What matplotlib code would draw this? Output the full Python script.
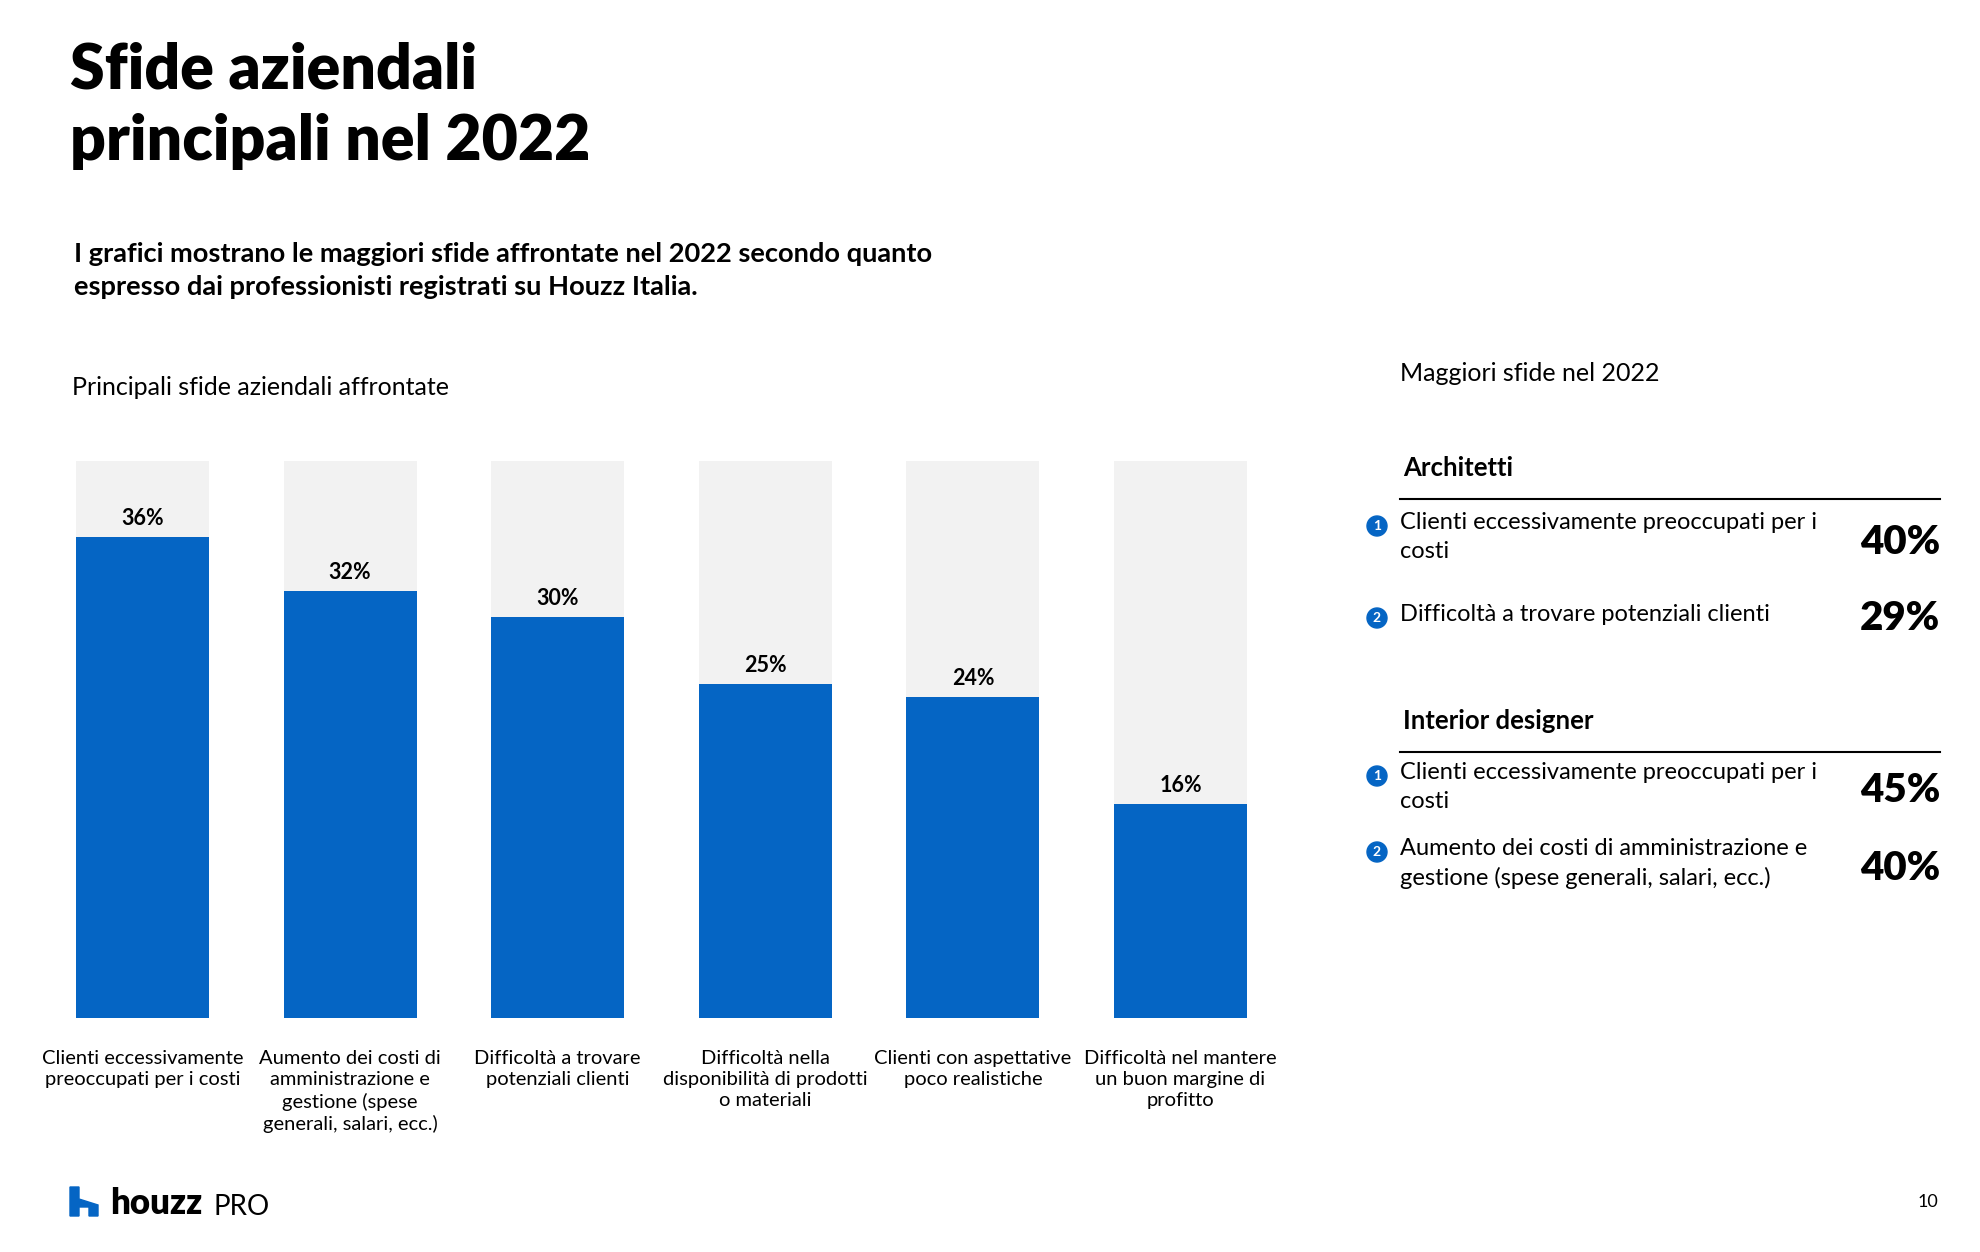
import matplotlib.pyplot as plt
from matplotlib.patches import Polygon, Ellipse

W, H = 1980, 1252
BLUE = "#0565C4"
GREY = "#F2F2F2"

categories = [
    "Clienti eccessivamente\npreoccupati per i costi",
    "Aumento dei costi di\namministrazione e\ngestione (spese\ngenerali, salari, ecc.)",
    "Difficoltà a trovare\npotenziali clienti",
    "Difficoltà nella\ndisponibilità di prodotti\no materiali",
    "Clienti con aspettative\npoco realistiche",
    "Difficoltà nel mantere\nun buon margine di\nprofitto",
]
values = [36, 32, 30, 25, 24, 16]
ymax = 41.7

arch_items = ["Clienti eccessivamente preoccupati per i\ncosti", "Difficoltà a trovare potenziali clienti"]
arch_values = [40, 29]
int_items = ["Clienti eccessivamente preoccupati per i\ncosti",
             "Aumento dei costi di amministrazione e\ngestione (spese generali, salari, ecc.)"]
int_values = [45, 40]

plt.rcParams["font.family"] = ["Lato", "DejaVu Sans"]
fig = plt.figure(figsize=(W / 100, H / 100), dpi=100)


def fx(x):
    return x / W


def fy(y):
    return 1 - y / H


def txt(x, y, s, **kw):
    kw.setdefault("va", "center")
    kw.setdefault("color", "black")
    fig.text(fx(x), fy(y), s, **kw)


txt(70, 70, "Sfide aziendali", fontsize=45, fontweight="heavy")
txt(70, 142, "principali nel 2022", fontsize=45, fontweight="heavy")
txt(74, 254, "I grafici mostrano le maggiori sfide affrontate nel 2022 secondo quanto", fontsize=19.6, fontweight="bold")
txt(74, 287, "espresso dai professionisti registrati su Houzz Italia.", fontsize=19.6, fontweight="bold")
txt(72, 387, "Principali sfide aziendali affrontate", fontsize=18)

# bar chart
x0, x1 = 76, 1247
ytop, ybot = 461, 1018
ax = fig.add_axes([fx(x0), fy(ybot), fx(x1) - fx(x0), (ybot - ytop) / H])
xs = range(len(values))
ax.bar(xs, [ymax] * len(values), width=0.64, color=GREY)
ax.bar(xs, values, width=0.64, color=BLUE)
for i, v in zip(xs, values):
    ax.text(i, v + 0.6, f"{v}%", ha="center", va="bottom", fontsize=15.5, fontweight="bold")
ax.set_xlim(-0.32, len(values) - 0.68)
ax.set_ylim(0, ymax)
ax.axis("off")
for i, c in enumerate(categories):
    cx = x0 + (i + 0.32) / (len(values) - 0.36) * (x1 - x0)
    txt(cx, 1050, c, fontsize=14.5, ha="center", va="top", linespacing=1.3)

# right panel
PX = 1400
txt(PX, 373, "Maggiori sfide nel 2022", fontsize=18)


def section(y_head, title, items, vals, ys):
    txt(PX + 3, y_head, title, fontsize=18.5, fontweight="bold")
    fig.add_artist(plt.Line2D([fx(PX), fx(1940)], [fy(y_head + 31)] * 2, color="black", lw=1.5))
    for n, (it, v, (yt, yp)) in enumerate(zip(items, vals, ys), start=1):
        fig.add_artist(Ellipse((fx(PX - 23), fy(yt)), 20 / W, 20 / H, color=BLUE,
                               transform=fig.transFigure))
        fig.text(fx(PX - 23), fy(yt), str(n), fontsize=10, fontweight="bold", color="white",
                 ha="center", va="center")
        txt(PX, yt - 14, it, fontsize=17, va="top", linespacing=1.45)
        txt(1940, yp, f"{v}%", fontsize=29, fontweight="heavy", ha="right")


section(468, "Architetti", arch_items, arch_values, [(526, 542), (618, 619)])
section(721, "Interior designer", int_items, int_values, [(776, 791), (852, 868)])

# footer logo
logo = [(70, 1187), (79, 1187), (79, 1199), (98, 1205), (98, 1216), (89, 1216), (89, 1207),
        (79, 1207), (79, 1216), (70, 1216)]
fig.add_artist(Polygon([(fx(a), fy(b)) for a, b in logo], closed=True, color=BLUE,
                       transform=fig.transFigure))
txt(110, 1204, "houzz", fontsize=25, fontweight="heavy")
txt(214, 1207, "PRO", fontsize=20)
txt(1938, 1202, "10", fontsize=13, ha="right")

fig.savefig("out.png", dpi=100, facecolor="white")
